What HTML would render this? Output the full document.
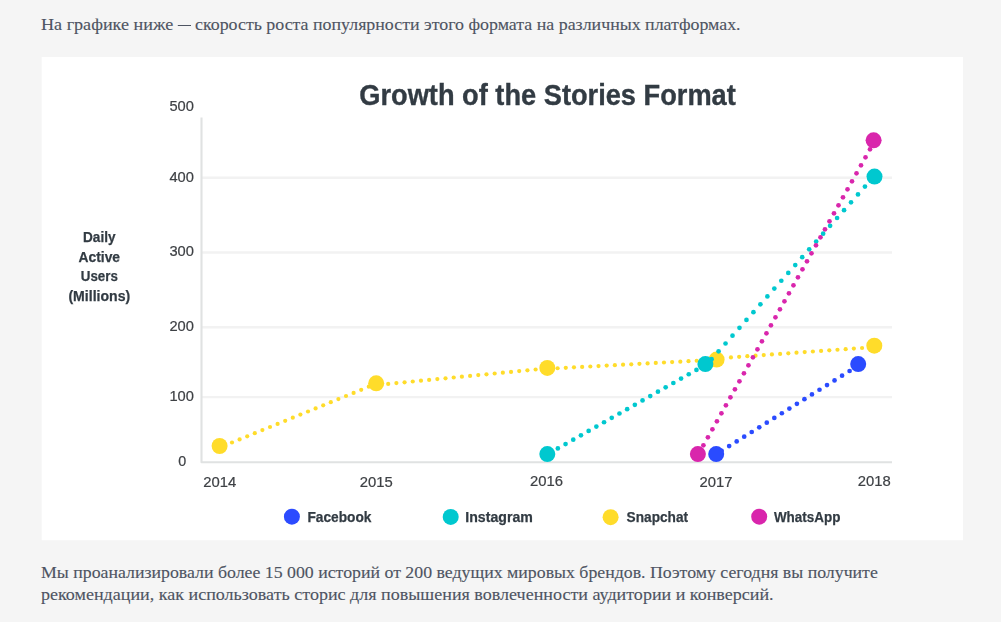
<!DOCTYPE html>
<html lang="ru"><head><meta charset="utf-8"><title>Growth of the Stories Format</title>
<style>
html,body{margin:0;padding:0;background:#f5f5f5;overflow:hidden}
body{width:1001px;height:622px;position:relative;font-family:"Liberation Sans",sans-serif}
svg{position:absolute;left:0;top:0;display:block}
svg.chart{will-change:transform;filter:blur(0.35px)}
</style></head><body>
<svg class="copy" width="1001" height="622" viewBox="0 0 1001 622">
<text x="41" y="30" font-family="'Liberation Serif', serif" font-size="16.5" font-weight="normal" text-anchor="start" fill="#4e5462" textLength="132.2" lengthAdjust="spacingAndGlyphs" stroke="#4e5462" stroke-width="0.12">На графике ниже</text>
<rect x="177.8" y="25" width="13.2" height="1" fill="#4e5462"/>
<text x="195.0" y="30" font-family="'Liberation Serif', serif" font-size="16.5" font-weight="normal" text-anchor="start" fill="#4e5462" textLength="545.6" lengthAdjust="spacingAndGlyphs" stroke="#4e5462" stroke-width="0.12">скорость роста популярности этого формата на различных платформах.</text>
<text x="41" y="578" font-family="'Liberation Serif', serif" font-size="16.5" font-weight="normal" text-anchor="start" fill="#4e5462" textLength="836.8" lengthAdjust="spacingAndGlyphs" stroke="#4e5462" stroke-width="0.12">Мы проанализировали более 15 000 историй от 200 ведущих мировых брендов. Поэтому сегодня вы получите</text>
<text x="41" y="600" font-family="'Liberation Serif', serif" font-size="16.5" font-weight="normal" text-anchor="start" fill="#4e5462" textLength="732.6" lengthAdjust="spacingAndGlyphs" stroke="#4e5462" stroke-width="0.12">рекомендации, как использовать сторис для повышения вовлеченности аудитории и конверсий.</text>
</svg>
<svg class="chart" width="1001" height="622" viewBox="0 0 1001 622">
<defs><filter id="bd" x="-5%" y="-5%" width="110%" height="110%"><feGaussianBlur stdDeviation="0.45"/></filter></defs>
<rect x="41.7" y="57" width="921.3" height="483.2" fill="#ffffff"/>
<line x1="202" y1="177.8" x2="892" y2="177.8" stroke="#f2f2f2" stroke-width="2.4"/>
<line x1="202" y1="252.5" x2="892" y2="252.5" stroke="#f2f2f2" stroke-width="2.4"/>
<line x1="202" y1="327.2" x2="892" y2="327.2" stroke="#f2f2f2" stroke-width="2.4"/>
<line x1="202" y1="397.1" x2="892" y2="397.1" stroke="#f2f2f2" stroke-width="2.4"/>
<polyline points="201.5,117.4 201.5,462.3 892,462.3" fill="none" stroke="#e0e2e2" stroke-width="2.1" stroke-linejoin="round"/>
<g filter="url(#bd)">
<g fill="#ffdc2a"><circle cx="232.00" cy="442.50" r="2.1"/><circle cx="239.60" cy="439.40" r="2.1"/><circle cx="247.20" cy="436.30" r="2.1"/><circle cx="254.80" cy="433.20" r="2.1"/><circle cx="262.40" cy="430.10" r="2.1"/><circle cx="270.00" cy="427.00" r="2.1"/><circle cx="277.60" cy="423.90" r="2.1"/><circle cx="285.20" cy="420.80" r="2.1"/><circle cx="292.80" cy="417.70" r="2.1"/><circle cx="300.40" cy="414.60" r="2.1"/><circle cx="308.00" cy="411.50" r="2.1"/><circle cx="315.60" cy="408.40" r="2.1"/><circle cx="323.20" cy="405.30" r="2.1"/><circle cx="330.80" cy="402.20" r="2.1"/><circle cx="338.40" cy="399.10" r="2.1"/><circle cx="346.00" cy="396.00" r="2.1"/><circle cx="353.60" cy="392.90" r="2.1"/><circle cx="361.20" cy="389.80" r="2.1"/><circle cx="368.80" cy="386.70" r="2.1"/></g>
<g fill="#ffdc2a"><circle cx="388.20" cy="383.90" r="2.1"/><circle cx="396.39" cy="383.10" r="2.1"/><circle cx="404.58" cy="382.30" r="2.1"/><circle cx="412.77" cy="381.50" r="2.1"/><circle cx="420.96" cy="380.70" r="2.1"/><circle cx="429.14" cy="379.90" r="2.1"/><circle cx="437.33" cy="379.10" r="2.1"/><circle cx="445.52" cy="378.30" r="2.1"/><circle cx="453.71" cy="377.50" r="2.1"/><circle cx="461.90" cy="376.70" r="2.1"/><circle cx="470.09" cy="375.90" r="2.1"/><circle cx="478.28" cy="375.10" r="2.1"/><circle cx="486.47" cy="374.30" r="2.1"/><circle cx="494.66" cy="373.50" r="2.1"/><circle cx="502.85" cy="372.70" r="2.1"/><circle cx="511.03" cy="371.90" r="2.1"/><circle cx="519.22" cy="371.10" r="2.1"/><circle cx="527.41" cy="370.30" r="2.1"/><circle cx="535.60" cy="369.50" r="2.1"/></g>
<g fill="#ffdc2a"><circle cx="557.60" cy="368.25" r="2.1"/><circle cx="565.78" cy="367.81" r="2.1"/><circle cx="573.96" cy="367.37" r="2.1"/><circle cx="582.15" cy="366.93" r="2.1"/><circle cx="590.33" cy="366.49" r="2.1"/><circle cx="598.51" cy="366.05" r="2.1"/><circle cx="606.69" cy="365.60" r="2.1"/><circle cx="614.87" cy="365.16" r="2.1"/><circle cx="623.06" cy="364.72" r="2.1"/><circle cx="631.24" cy="364.28" r="2.1"/><circle cx="639.42" cy="363.84" r="2.1"/><circle cx="647.60" cy="363.40" r="2.1"/><circle cx="655.78" cy="362.96" r="2.1"/><circle cx="663.97" cy="362.52" r="2.1"/><circle cx="672.15" cy="362.08" r="2.1"/><circle cx="680.33" cy="361.63" r="2.1"/><circle cx="688.51" cy="361.19" r="2.1"/><circle cx="696.69" cy="360.75" r="2.1"/></g>
<g fill="#ffdc2a"><circle cx="730.95" cy="357.40" r="2.1"/><circle cx="739.14" cy="356.81" r="2.1"/><circle cx="747.34" cy="356.22" r="2.1"/><circle cx="755.53" cy="355.64" r="2.1"/><circle cx="763.73" cy="355.05" r="2.1"/><circle cx="771.92" cy="354.46" r="2.1"/><circle cx="780.11" cy="353.88" r="2.1"/><circle cx="788.31" cy="353.29" r="2.1"/><circle cx="796.50" cy="352.70" r="2.1"/><circle cx="804.70" cy="352.11" r="2.1"/><circle cx="812.89" cy="351.52" r="2.1"/><circle cx="821.08" cy="350.94" r="2.1"/><circle cx="829.28" cy="350.35" r="2.1"/><circle cx="837.47" cy="349.76" r="2.1"/><circle cx="845.67" cy="349.17" r="2.1"/><circle cx="853.86" cy="348.59" r="2.1"/><circle cx="862.05" cy="348.00" r="2.1"/></g>
<g fill="#ffdc2a"><circle cx="219.6" cy="446.0" r="8"/><circle cx="376.2" cy="383.3" r="8"/><circle cx="547.3" cy="367.9" r="8"/><circle cx="716.6" cy="359.6" r="8"/><circle cx="874.3" cy="345.7" r="8"/></g>
<g fill="#2c4bff"><circle cx="721.62" cy="450.79" r="2.35"/><circle cx="729.15" cy="446.10" r="2.35"/><circle cx="736.68" cy="441.41" r="2.35"/><circle cx="744.21" cy="436.71" r="2.35"/><circle cx="751.73" cy="432.02" r="2.35"/><circle cx="759.26" cy="427.32" r="2.35"/><circle cx="766.79" cy="422.63" r="2.35"/><circle cx="774.32" cy="417.94" r="2.35"/><circle cx="781.85" cy="413.24" r="2.35"/><circle cx="789.37" cy="408.55" r="2.35"/><circle cx="796.90" cy="403.85" r="2.35"/><circle cx="804.43" cy="399.16" r="2.35"/><circle cx="811.96" cy="394.47" r="2.35"/><circle cx="819.49" cy="389.77" r="2.35"/><circle cx="827.01" cy="385.08" r="2.35"/><circle cx="834.54" cy="380.38" r="2.35"/><circle cx="842.07" cy="375.69" r="2.35"/><circle cx="849.60" cy="371.00" r="2.35"/></g>
<g fill="#2c4bff"><circle cx="716.2" cy="454.1" r="8"/><circle cx="858.2" cy="364.1" r="8"/></g>
<g fill="#00c8cf"><circle cx="557.85" cy="448.40" r="2.35"/><circle cx="565.55" cy="444.04" r="2.35"/><circle cx="573.25" cy="439.68" r="2.35"/><circle cx="580.95" cy="435.32" r="2.35"/><circle cx="588.65" cy="430.96" r="2.35"/><circle cx="596.35" cy="426.59" r="2.35"/><circle cx="604.05" cy="422.23" r="2.35"/><circle cx="611.75" cy="417.87" r="2.35"/><circle cx="619.45" cy="413.51" r="2.35"/><circle cx="627.15" cy="409.15" r="2.35"/><circle cx="634.85" cy="404.79" r="2.35"/><circle cx="642.55" cy="400.43" r="2.35"/><circle cx="650.25" cy="396.07" r="2.35"/><circle cx="657.95" cy="391.71" r="2.35"/><circle cx="665.65" cy="387.35" r="2.35"/><circle cx="673.35" cy="382.99" r="2.35"/><circle cx="681.05" cy="378.62" r="2.35"/><circle cx="688.75" cy="374.26" r="2.35"/><circle cx="696.45" cy="369.90" r="2.35"/></g>
<g fill="#00c8cf"><circle cx="711.60" cy="359.20" r="2.35"/><circle cx="718.57" cy="351.35" r="2.35"/><circle cx="725.54" cy="343.51" r="2.35"/><circle cx="732.51" cy="335.66" r="2.35"/><circle cx="739.48" cy="327.82" r="2.35"/><circle cx="746.46" cy="319.97" r="2.35"/><circle cx="753.43" cy="312.13" r="2.35"/><circle cx="760.40" cy="304.28" r="2.35"/><circle cx="767.37" cy="296.44" r="2.35"/><circle cx="774.34" cy="288.59" r="2.35"/><circle cx="781.31" cy="280.75" r="2.35"/><circle cx="788.28" cy="272.90" r="2.35"/><circle cx="795.25" cy="265.06" r="2.35"/><circle cx="802.22" cy="257.21" r="2.35"/><circle cx="809.19" cy="249.37" r="2.35"/><circle cx="816.16" cy="241.52" r="2.35"/><circle cx="823.14" cy="233.68" r="2.35"/><circle cx="830.11" cy="225.83" r="2.35"/><circle cx="837.08" cy="217.99" r="2.35"/><circle cx="844.05" cy="210.14" r="2.35"/><circle cx="851.02" cy="202.30" r="2.35"/><circle cx="857.99" cy="194.45" r="2.35"/><circle cx="864.96" cy="186.61" r="2.35"/></g>
<g fill="#00c8cf"><circle cx="547.3" cy="454.1" r="8"/><circle cx="705.4" cy="364.1" r="8"/><circle cx="874.5" cy="176.6" r="8"/></g>
<g fill="#d925ac"><circle cx="703.40" cy="445.30" r="2.35"/><circle cx="707.90" cy="437.30" r="2.35"/><circle cx="712.41" cy="429.30" r="2.35"/><circle cx="716.91" cy="421.30" r="2.35"/><circle cx="721.41" cy="413.30" r="2.35"/><circle cx="725.91" cy="405.30" r="2.35"/><circle cx="730.42" cy="397.30" r="2.35"/><circle cx="734.92" cy="389.30" r="2.35"/><circle cx="739.42" cy="381.30" r="2.35"/><circle cx="743.93" cy="373.30" r="2.35"/><circle cx="748.43" cy="365.30" r="2.35"/><circle cx="752.93" cy="357.30" r="2.35"/><circle cx="757.44" cy="349.30" r="2.35"/><circle cx="761.94" cy="341.30" r="2.35"/><circle cx="766.44" cy="333.30" r="2.35"/><circle cx="770.94" cy="325.30" r="2.35"/><circle cx="775.45" cy="317.30" r="2.35"/><circle cx="779.95" cy="309.30" r="2.35"/><circle cx="784.45" cy="301.30" r="2.35"/><circle cx="788.96" cy="293.30" r="2.35"/><circle cx="793.46" cy="285.30" r="2.35"/><circle cx="797.96" cy="277.30" r="2.35"/><circle cx="802.47" cy="269.30" r="2.35"/><circle cx="806.97" cy="261.30" r="2.35"/><circle cx="811.47" cy="253.30" r="2.35"/><circle cx="815.98" cy="245.30" r="2.35"/><circle cx="820.48" cy="237.30" r="2.35"/><circle cx="824.98" cy="229.30" r="2.35"/><circle cx="829.48" cy="221.30" r="2.35"/><circle cx="833.99" cy="213.30" r="2.35"/><circle cx="838.49" cy="205.30" r="2.35"/><circle cx="842.99" cy="197.30" r="2.35"/><circle cx="847.50" cy="189.30" r="2.35"/><circle cx="852.00" cy="181.30" r="2.35"/><circle cx="856.50" cy="173.30" r="2.35"/><circle cx="861.00" cy="165.30" r="2.35"/><circle cx="865.51" cy="157.30" r="2.35"/><circle cx="870.01" cy="149.30" r="2.35"/></g>
<g fill="#d925ac"><circle cx="697.9" cy="454.1" r="8"/><circle cx="873.6" cy="140.3" r="8"/></g>
</g>
<circle cx="291.9" cy="516.7" r="8" fill="#2c4bff"/><circle cx="450.7" cy="516.9" r="8" fill="#00c8cf"/><circle cx="610.6" cy="517.2" r="8" fill="#ffdc2a"/><circle cx="759.2" cy="516.7" r="8" fill="#d925ac"/>
<text x="359.3" y="105.3" font-family="'Liberation Sans', sans-serif" font-size="29" font-weight="bold" text-anchor="start" fill="#323b43" textLength="376.5" lengthAdjust="spacingAndGlyphs" stroke="#323b43" stroke-width="0.35">Growth of the Stories Format</text>
<text x="193.9" y="110.7" font-family="'Liberation Sans', sans-serif" font-size="14.3" font-weight="normal" text-anchor="end" fill="#3e4145" textLength="24.5" lengthAdjust="spacingAndGlyphs" stroke="#3e4145" stroke-width="0.2">500</text>
<text x="193.9" y="181.5" font-family="'Liberation Sans', sans-serif" font-size="14.3" font-weight="normal" text-anchor="end" fill="#3e4145" textLength="24.5" lengthAdjust="spacingAndGlyphs" stroke="#3e4145" stroke-width="0.2">400</text>
<text x="193.9" y="256.0" font-family="'Liberation Sans', sans-serif" font-size="14.3" font-weight="normal" text-anchor="end" fill="#3e4145" textLength="24.5" lengthAdjust="spacingAndGlyphs" stroke="#3e4145" stroke-width="0.2">300</text>
<text x="193.9" y="331.0" font-family="'Liberation Sans', sans-serif" font-size="14.3" font-weight="normal" text-anchor="end" fill="#3e4145" textLength="24.5" lengthAdjust="spacingAndGlyphs" stroke="#3e4145" stroke-width="0.2">200</text>
<text x="193.9" y="400.7" font-family="'Liberation Sans', sans-serif" font-size="14.3" font-weight="normal" text-anchor="end" fill="#3e4145" textLength="24.5" lengthAdjust="spacingAndGlyphs" stroke="#3e4145" stroke-width="0.2">100</text>
<text x="182.2" y="466.0" font-family="'Liberation Sans', sans-serif" font-size="14.3" font-weight="normal" text-anchor="middle" fill="#3e4145" stroke="#3e4145" stroke-width="0.2">0</text>
<text x="219.8" y="487.0" font-family="'Liberation Sans', sans-serif" font-size="14.3" font-weight="normal" text-anchor="middle" fill="#3e4145" textLength="33" lengthAdjust="spacingAndGlyphs" stroke="#3e4145" stroke-width="0.2">2014</text>
<text x="376.3" y="486.9" font-family="'Liberation Sans', sans-serif" font-size="14.3" font-weight="normal" text-anchor="middle" fill="#3e4145" textLength="33" lengthAdjust="spacingAndGlyphs" stroke="#3e4145" stroke-width="0.2">2015</text>
<text x="546.6" y="486.09999999999997" font-family="'Liberation Sans', sans-serif" font-size="14.3" font-weight="normal" text-anchor="middle" fill="#3e4145" textLength="33" lengthAdjust="spacingAndGlyphs" stroke="#3e4145" stroke-width="0.2">2016</text>
<text x="716.1" y="487.0" font-family="'Liberation Sans', sans-serif" font-size="14.3" font-weight="normal" text-anchor="middle" fill="#3e4145" textLength="33" lengthAdjust="spacingAndGlyphs" stroke="#3e4145" stroke-width="0.2">2017</text>
<text x="874.3" y="486.09999999999997" font-family="'Liberation Sans', sans-serif" font-size="14.3" font-weight="normal" text-anchor="middle" fill="#3e4145" textLength="33" lengthAdjust="spacingAndGlyphs" stroke="#3e4145" stroke-width="0.2">2018</text>
<text x="99.3" y="241.7" font-family="'Liberation Sans', sans-serif" font-size="14.5" font-weight="bold" text-anchor="middle" fill="#323b43" textLength="32.5" lengthAdjust="spacingAndGlyphs" stroke="#323b43" stroke-width="0.25">Daily</text>
<text x="99.3" y="261.5" font-family="'Liberation Sans', sans-serif" font-size="14.5" font-weight="bold" text-anchor="middle" fill="#323b43" textLength="41.5" lengthAdjust="spacingAndGlyphs" stroke="#323b43" stroke-width="0.25">Active</text>
<text x="99.3" y="280.9" font-family="'Liberation Sans', sans-serif" font-size="14.5" font-weight="bold" text-anchor="middle" fill="#323b43" textLength="37" lengthAdjust="spacingAndGlyphs" stroke="#323b43" stroke-width="0.25">Users</text>
<text x="99.3" y="301.0" font-family="'Liberation Sans', sans-serif" font-size="14.5" font-weight="bold" text-anchor="middle" fill="#323b43" textLength="61.8" lengthAdjust="spacingAndGlyphs" stroke="#323b43" stroke-width="0.25">(Millions)</text>
<text x="307.5" y="522.1" font-family="'Liberation Sans', sans-serif" font-size="14.5" font-weight="bold" text-anchor="start" fill="#323b43" textLength="64" lengthAdjust="spacingAndGlyphs" stroke="#323b43" stroke-width="0.25">Facebook</text>
<text x="465.3" y="522.1" font-family="'Liberation Sans', sans-serif" font-size="14.5" font-weight="bold" text-anchor="start" fill="#323b43" textLength="67.5" lengthAdjust="spacingAndGlyphs" stroke="#323b43" stroke-width="0.25">Instagram</text>
<text x="626.6" y="522.4000000000001" font-family="'Liberation Sans', sans-serif" font-size="14.5" font-weight="bold" text-anchor="start" fill="#323b43" textLength="61.5" lengthAdjust="spacingAndGlyphs" stroke="#323b43" stroke-width="0.25">Snapchat</text>
<text x="773.9" y="522.1" font-family="'Liberation Sans', sans-serif" font-size="14.5" font-weight="bold" text-anchor="start" fill="#323b43" textLength="66.5" lengthAdjust="spacingAndGlyphs" stroke="#323b43" stroke-width="0.25">WhatsApp</text>
</svg>
</body></html>
